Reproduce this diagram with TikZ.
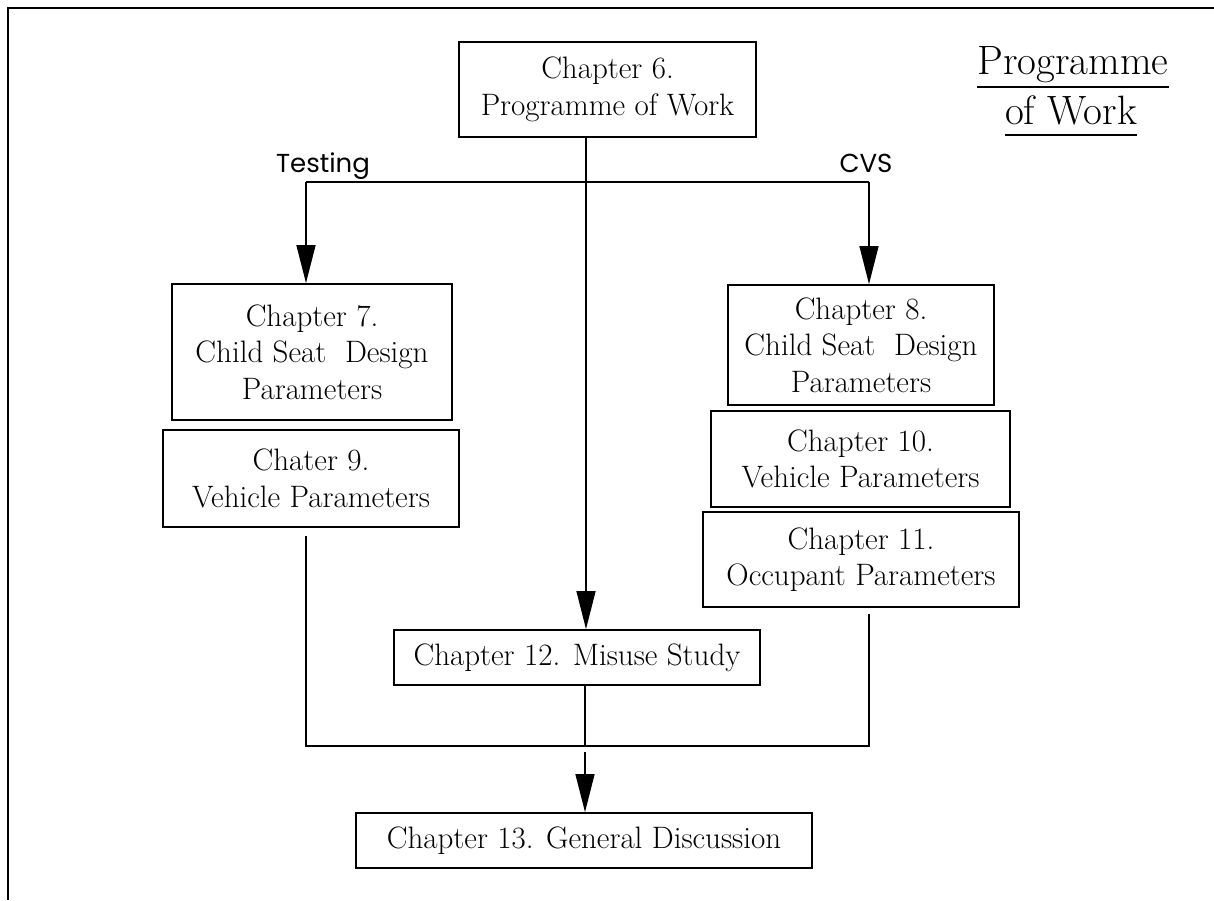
\documentclass[tikz,border=0pt]{standalone}
\usepackage{fontspec}
\newfontfamily\labfont{Poppins}
\usetikzlibrary{arrows.meta}
\begin{document}
\begin{tikzpicture}[x=1pt,y=-1pt,
  box/.style={draw, line width=1.8pt, inner sep=0pt, align=center,
    font=\fontsize{31}{36.5}\selectfont},
  conn/.style={line width=1.4pt},
  arr/.style={conn, -{Triangle[length=38pt,width=19pt]}},
  lab/.style={font=\labfont\fontsize{26}{30}\selectfont, anchor=base, inner sep=0pt},
  ttl/.style={font=\fontsize{41}{44}\selectfont, anchor=base, inner sep=0pt},
  uline/.style={line width=1.6pt}]
\useasboundingbox (0,0) rectangle (1214,900);
% frame (open at right and bottom)
\draw[line width=2.5pt] (8,900) -- (8,8) -- (1214,8);

% boxes
\node[box, minimum width=297pt, minimum height=95pt]  (ch6)  at (607.5,89.5) {Chapter 6.\\Programme of Work};
\node[box, minimum width=280pt, minimum height=136pt] (ch7)  at (312,352)   {Chapter 7.\\Child Seat\ \ Design\\Parameters};
\node[box, minimum width=296pt, minimum height=97pt]  (ch9)  at (311,478.5) {Chater 9.\\Vehicle Parameters};
\node[box, minimum width=266pt, minimum height=120pt] (ch8)  at (861,345)   {Chapter 8.\\Child Seat\ \ Design\\Parameters};
\node[box, minimum width=299pt, minimum height=96pt]  (ch10) at (860.5,459) {Chapter 10.\\Vehicle Parameters};
\node[box, minimum width=316pt, minimum height=95pt]  (ch11) at (861,559.5) {Chapter 11.\\Occupant Parameters};
\node[box, minimum width=366pt, minimum height=55pt]  (ch12) at (577,657.5) {Chapter 12. Misuse Study};
\node[box, minimum width=456pt, minimum height=55pt]  (ch13) at (584,840.5) {Chapter 13. General Discussion};

% title
\node[ttl] (t1) at (1073,74)  {Programme};
\node[ttl] (t2) at (1071,124) {of Work};
\draw[uline] ([yshift=-13pt]t1.base west) -- ([yshift=-13pt]t1.base east);
\draw[uline] ([yshift=-11pt]t2.base west) -- ([yshift=-11pt]t2.base east);

% branch labels
\node[lab] (test) at (323,172) {Testing};
\node[lab] (cvs)  at (866,172) {CVS};

% connectors
\coordinate (mid) at (586,182);
\coordinate (L) at (306,182);
\coordinate (R) at (869,182);
\coordinate (B) at (585,746);
\draw[conn] (L) -- (R);
\draw[arr] (ch6.south -| mid) -- (ch12.north -| mid);
\draw[arr] (L) -- (ch7.north -| L);
\draw[arr] (R) -- (ch8.north -| R);
\draw[conn, shorten <=8pt, shorten >=6pt] (ch9.south -| L) -- (B -| L) -- (B -| R) -- (ch11.south -| R);
\draw[conn] (ch12.south -| B) -- (B);
\draw[arr, shorten <=6pt] (B) -- (ch13.north -| B);
\end{tikzpicture}
\end{document}
